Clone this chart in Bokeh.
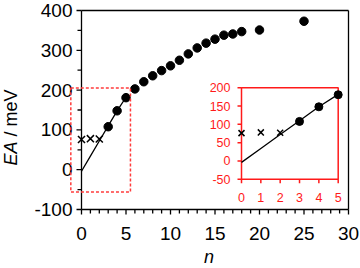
import math
from bokeh.plotting import figure
from bokeh.models import Range1d, BoxAnnotation
from bokeh.core.properties import value
from bokeh.embed import file_html
from bokeh.resources import INLINE

# ---------------- data ----------------
cross_n = [0, 1, 2]
cross_ea = [76, 78, 77]
dot_n = [3, 4, 5, 6, 7, 8, 9, 10, 11, 12, 13, 14, 15, 16, 17, 18, 20, 25]
dot_ea = [108, 148, 181, 203, 221, 236, 249, 261, 275, 291, 306, 318, 328, 338, 341, 347, 351, 373]
fit_n = [0, 1, 2, 3, 4, 5]
fit_ea = [-4, 34, 72, 110, 148, 182]

x_ticks = [0, 5, 10, 15, 20, 25, 30]
x_tick_labels = ["0", "5", "10", "15", "20", "25", "30"]
y_ticks = [-100, 0, 100, 200, 300, 400]
y_tick_labels = ["-100", "0", "100", "200", "300", "400"]
inset_x_ticks = [0, 1, 2, 3, 4, 5]
inset_y_ticks = [-50, 0, 50, 100, 150, 200]
zoom_left, zoom_right, zoom_bottom, zoom_top = -1.2, 5.5, -56, 205

inset_dot_n = [n for n in dot_n if n <= inset_x_ticks[-1]]
inset_dot_ea = [e for n, e in zip(dot_n, dot_ea) if n <= inset_x_ticks[-1]]
y_minor = [(a + b) / 2 for a, b in zip(y_ticks, y_ticks[1:])]
x_minor = [m for m in range(x_ticks[0], x_ticks[-1] + 1) if m not in x_ticks]

# ---------------- layout ----------------
W, H = 360, 268
FONT = "Liberation Sans"
RED = "#ff1a1a"
BOX_RED = "#ff3b3b"
LW = 1.3

# canvas pixels (the plot area fills the whole canvas; axes are drawn in it)
main_px = dict(x0=81, x1=348, y0=209, y1=10)   # pixels of n 0/30 and EA -100/400
mx = (main_px["x1"] - main_px["x0"]) / (x_ticks[-1] - x_ticks[0])
my = (main_px["y0"] - main_px["y1"]) / (y_ticks[-1] - y_ticks[0])
x_range = Range1d(x_ticks[0] - main_px["x0"] / mx, x_ticks[-1] + (W - main_px["x1"]) / mx)
y_range = Range1d(y_ticks[0] - (H - main_px["y0"]) / my, y_ticks[-1] + main_px["y1"] / my)

ins_px = dict(x0=241, x1=337.7, ytop=87.3, ybot=178.7)
ux = (ins_px["x1"] - ins_px["x0"]) / (inset_x_ticks[-1] - inset_x_ticks[0])
uy = (ins_px["ybot"] - ins_px["ytop"]) / (inset_y_ticks[-1] - inset_y_ticks[0])
ins_x_range = Range1d(inset_x_ticks[0] - ins_px["x0"] / ux,
                      inset_x_ticks[-1] + (W - ins_px["x1"]) / ux)
ins_y_range = Range1d(inset_y_ticks[0] - (H - ins_px["ybot"]) / uy,
                      inset_y_ticks[-1] + ins_px["ytop"] / uy)

p = figure(width=W, height=H, output_backend="svg", toolbar_location=None,
           x_range=x_range, y_range=y_range,
           min_border=0, min_border_left=0, min_border_right=0, min_border_top=0,
           min_border_bottom=0, x_axis_type=None, y_axis_type=None)
p.outline_line_color = None
p.background_fill_color = "white"
p.border_fill_color = "white"
p.extra_x_ranges = {"ix": ins_x_range}
p.extra_y_ranges = {"iy": ins_y_range}

x0, x1 = x_ticks[0], x_ticks[-1]
y0, y1 = y_ticks[0], y_ticks[-1]

# frame: left (y axis), bottom (x axis), top, right
p.segment(x0=[x0, x0, x0, x1], y0=[y0, y0, y1, y0], x1=[x0, x1, x1, x1], y1=[y1, y0, y1, y1],
          line_color="black", line_width=LW)
# y ticks (outward) and labels
p.segment(x0=[x0] * len(y_ticks), y0=y_ticks, x1=[x0 - 5 / mx] * len(y_ticks), y1=y_ticks,
          line_color="black", line_width=LW)
p.segment(x0=[x0] * len(y_minor), y0=y_minor, x1=[x0 - 4 / mx] * len(y_minor), y1=y_minor,
          line_color="black", line_width=LW)
p.text(x=[x0] * len(y_ticks), y=y_ticks, text=y_tick_labels, x_offset=-9,
       text_align="right", text_baseline="middle", text_color="black",
       text_font=value(FONT), text_font_size="19px")
# x ticks (outward) and labels
p.segment(x0=x_ticks, y0=[y0] * len(x_ticks), x1=x_ticks, y1=[y0 - 5 / my] * len(x_ticks),
          line_color="black", line_width=LW)
p.segment(x0=x_minor, y0=[y0] * len(x_minor), x1=x_minor, y1=[y0 - 4 / my] * len(x_minor),
          line_color="black", line_width=LW)
p.text(x=x_ticks, y=[y0] * len(x_ticks), text=x_tick_labels, y_offset=24,
       text_align="center", text_baseline="middle", text_color="black",
       text_font=value(FONT), text_font_size="19px")

# axis titles
p.text(x=[(x0 + x1) / 2], y=[y0], text=["n"], x_offset=-6, y_offset=47,
       text_font=value(FONT), text_font_style="italic", text_font_size="18px",
       text_align="center", text_baseline="middle", text_color="black")
lab_fs = 18
ea_w = 1.334 * lab_fs
sp_w = 0.278 * lab_fs
p.text(x=[x0], y=[y0], text=["EA"], x_offset=-71, y_offset=-44, angle=math.pi / 2,
       text_font=value(FONT), text_font_style="italic", text_font_size=f"{lab_fs}px",
       text_align="left", text_baseline="middle", text_color="black")
p.text(x=[x0], y=[y0], text=["/ meV"], x_offset=-71, y_offset=-44 - ea_w - sp_w,
       angle=math.pi / 2, text_font=value(FONT), text_font_size=f"{lab_fs}px",
       text_align="left", text_baseline="middle", text_color="black")

# main data
p.line(fit_n, fit_ea, line_color="black", line_width=LW)
p.scatter(dot_n, dot_ea, size=8.5, fill_color="black", line_color="black")
p.scatter(cross_n, cross_ea, marker="x", size=10, line_color="black", line_width=1.5)

# zoom region box
p.add_layout(BoxAnnotation(left=zoom_left, right=zoom_right, bottom=zoom_bottom, top=zoom_top,
                           fill_alpha=0, line_color=BOX_RED, line_alpha=1.0,
                           line_width=1.5, line_dash="3 2"))

# ---------------- inset ----------------
kw = dict(x_range_name="ix", y_range_name="iy")
p.quad(left=[inset_x_ticks[0]], right=[inset_x_ticks[-1]],
       bottom=[inset_y_ticks[0]], top=[inset_y_ticks[-1]],
       fill_color="white", line_color=RED, line_width=1.5, **kw)
tick_len = 4
p.segment(x0=[inset_x_ticks[0]] * len(inset_y_ticks), y0=inset_y_ticks,
          x1=[inset_x_ticks[0] - tick_len / ux] * len(inset_y_ticks), y1=inset_y_ticks,
          line_color=RED, line_width=1.5, **kw)
p.segment(x0=inset_x_ticks, y0=[inset_y_ticks[0]] * len(inset_x_ticks),
          x1=inset_x_ticks, y1=[inset_y_ticks[0] - tick_len / uy] * len(inset_x_ticks),
          line_color=RED, line_width=1.5, **kw)
p.text(x=[inset_x_ticks[0]] * len(inset_y_ticks), y=inset_y_ticks,
       text=[str(t) for t in inset_y_ticks], x_offset=-11,
       text_align="right", text_baseline="middle", text_color=RED,
       text_font=value(FONT), text_font_size="12.5px", **kw)
p.text(x=inset_x_ticks, y=[inset_y_ticks[0]] * len(inset_x_ticks),
       text=[str(t) for t in inset_x_ticks], y_offset=18,
       text_align="center", text_baseline="middle", text_color=RED,
       text_font=value(FONT), text_font_size="12.5px", **kw)

p.line(fit_n, fit_ea, line_color="black", line_width=LW, **kw)
p.scatter(inset_dot_n, inset_dot_ea, size=8, fill_color="black", line_color="black", **kw)
p.scatter(cross_n, cross_ea, marker="x", size=8.5, line_color="black", line_width=1.5, **kw)

open("out.html", "w").write(file_html(p, INLINE))
